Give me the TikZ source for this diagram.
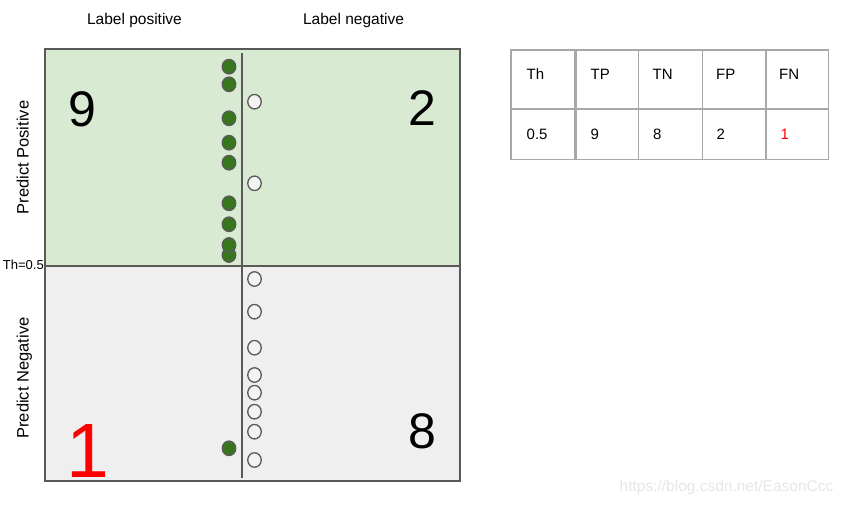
\documentclass[tikz,border=0pt]{standalone}
\usepackage{fontspec}
\setmainfont{Liberation Sans}
\usetikzlibrary{shapes.geometric}
\definecolor{posfill}{HTML}{D9EAD3}
\definecolor{negfill}{HTML}{EFEFEF}
\definecolor{edgegray}{HTML}{595959}
\definecolor{dotgreen}{HTML}{38761D}
\definecolor{dotwhite}{HTML}{F3F3F3}
\definecolor{tablegray}{HTML}{A8A8A8}
\definecolor{wmgray}{HTML}{E6E6E6}
\begin{document}
\begin{tikzpicture}[x=1pt,y=-1pt,
  dotbase/.style={ellipse,draw=edgegray,line width=1.3pt,minimum width=13.5pt,minimum height=14.5pt,inner sep=0pt},
  posdot/.style={dotbase,fill=dotgreen},
  negdot/.style={dotbase,fill=dotwhite},
  bignum/.style={font=\fontsize{50}{50}\selectfont,inner sep=0pt},
  hdr/.style={font=\fontsize{15.5}{18}\selectfont,inner sep=0pt,anchor=base},
  side/.style={font=\fontsize{16.5}{19}\selectfont,inner sep=0pt,anchor=base,rotate=90},
  cell/.style={font=\fontsize{15}{18}\selectfont,inner sep=0pt,anchor=west},
  frame/.style={draw=edgegray,line width=1.2pt},
  grid/.style={draw=tablegray,line width=1.5pt}
]
\useasboundingbox (0,0) rectangle (845,505);
% quadrants
\fill[posfill] (45,49) rectangle (460,266);
\fill[negfill] (45,266) rectangle (460,481);
\draw[frame] (45,49) rectangle (460,481);
\coordinate (divL) at (45,266);
\coordinate (divR) at (460,266);
\draw[frame] (divL) -- (divR);
\coordinate (vtop) at (242,53);
\coordinate (vbot) at (242,478);
\draw[frame] (vtop) -- (vbot);
% headers
\node[hdr] (lpos) at (134.5,25) {Label positive};
\node[hdr] (lneg) at (353.5,25) {Label negative};
\node[side] (ppos) at (28.5,157.5) {Predict Positive};
\node[side] (pneg) at (28.5,378) {Predict Negative};
\node[font=\fontsize{13}{15}\selectfont,inner sep=0pt,anchor=base east] (th) at (44,269.5) {Th=0.5};
% big numbers
\node[bignum] (tp) at (82.5,109) {9};
\node[bignum] (fp) at (422,108.5) {2};
\node[bignum] (tn) at (422,431.5) {8};
\node[bignum,font=\fontsize{77}{77}\selectfont,text=red] (fn) at (88,451) {1};
% positive samples
\node[posdot] (g1) at (229,66.7) {};
\node[posdot] (g2) at (229,84.3) {};
\node[posdot] (g3) at (229,118.3) {};
\node[posdot] (g4) at (229,142.7) {};
\node[posdot] (g5) at (229,162.7) {};
\node[posdot] (g6) at (229,203.3) {};
\node[posdot] (g7) at (229,224.3) {};
\node[posdot] (g9) at (229,255) {};
\node[posdot] (g8) at (229,245) {};
\node[posdot] (g10) at (229,448.3) {};
% negative samples
\node[negdot] (w1) at (254.5,101.7) {};
\node[negdot] (w2) at (254.5,183.3) {};
\node[negdot] (w3) at (254.5,279) {};
\node[negdot] (w4) at (254.5,311.7) {};
\node[negdot] (w5) at (254.5,347.7) {};
\node[negdot] (w6) at (254.5,375) {};
\node[negdot] (w7) at (254.5,392.7) {};
\node[negdot] (w8) at (254.5,411.7) {};
\node[negdot] (w9) at (254.5,431.7) {};
\node[negdot] (w10) at (254.5,460) {};
% table
\draw[grid] (511,50) rectangle (828.5,159.5);
\draw[grid] (511,109) -- (828.5,109);
\draw[draw=tablegray,line width=2.6pt] (575.5,50) -- (575.5,159.5);
\draw[grid] (638.5,50) -- (638.5,159.5);
\draw[grid] (702.5,50) -- (702.5,159.5);
\draw[grid] (766,50) -- (766,159.5);
\node[cell] (hTh) at (526.5,74) {Th};
\node[cell] (hTP) at (590.5,74) {TP};
\node[cell] (hTN) at (652.5,74) {TN};
\node[cell] (hFP) at (716,74) {FP};
\node[cell] (hFN) at (779,74) {FN};
\node[cell] (vTh) at (526.5,134) {0.5};
\node[cell] (vTP) at (590.5,134) {9};
\node[cell] (vTN) at (653,134) {8};
\node[cell] (vFP) at (716.5,134) {2};
\node[cell,text=red] (vFN) at (780.5,134) {1};
% watermark
\node[font=\fontsize{15.5}{18}\selectfont,text=wmgray,inner sep=0pt] (wm) at (726.5,487.5) {https://blog.csdn.net/EasonCcc};
\end{tikzpicture}
\end{document}
